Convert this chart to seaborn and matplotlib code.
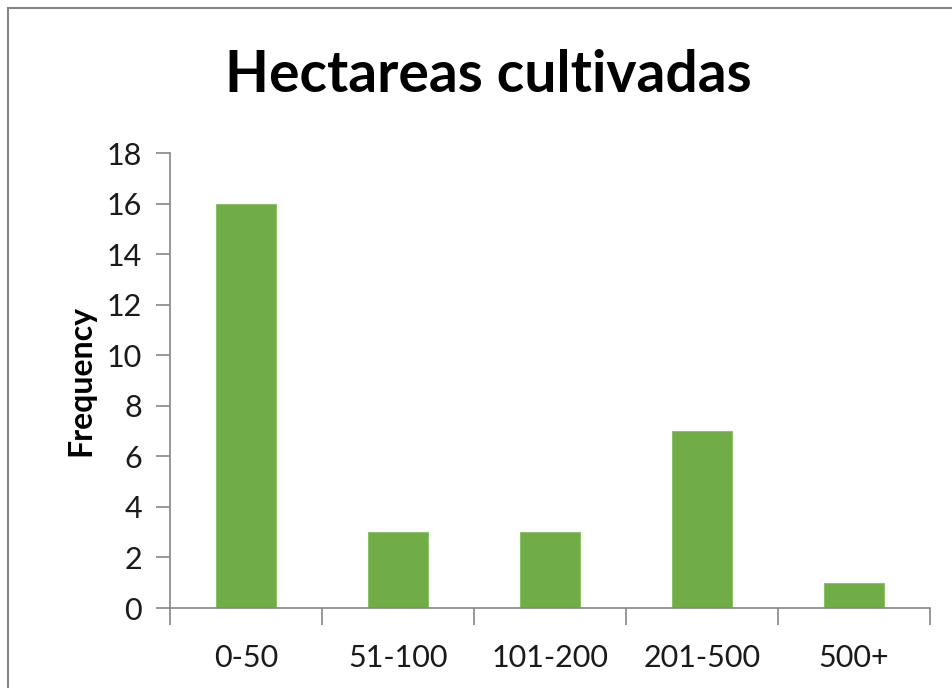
"""Hectareas cultivadas - histograma de frecuencias"""
import matplotlib
matplotlib.use("Agg")
import matplotlib.pyplot as plt
from matplotlib.patches import Rectangle
import numpy as np
import seaborn as sns

rangos = ["0-50", "51-100", "101-200", "201-500", "500+"]
frecuencias = [16, 3, 3, 7, 1]

sns.set_theme(style="white")
plt.rcParams["font.family"] = ["Lato", "DejaVu Sans"]

fig = plt.figure(figsize=(9.53, 6.88), dpi=100)
ax = fig.add_axes([170 / 953, 1 - 608 / 688, (930 - 170) / 953, (608 - 153) / 688])

sns.barplot(x=rangos, y=frecuencias, color="#70AD47", saturation=1,
            width=0.4, edgecolor="#8CC168", linewidth=0.8, ax=ax)

gris = "#868686"
ax.set_xlim(-0.5, len(rangos) - 0.5)
ax.set_ylim(0, 18)
ax.set_yticks(np.arange(0, 19, 2))
ax.set_xticks(np.arange(-0.5, len(rangos)), minor=True)
ax.tick_params(which="both", bottom=True, left=True)
ax.tick_params(axis="x", which="major", length=0, pad=26, labelsize=22, labelcolor="#1a1a1a")
ax.tick_params(axis="x", which="minor", length=12, width=1.2, color=gris, direction="out")
ax.tick_params(axis="y", length=10, width=1.2, color=gris, direction="out",
               pad=10, labelsize=22, labelcolor="#1a1a1a")
for lado in ["top", "right"]:
    ax.spines[lado].set_visible(False)
for lado in ["left", "bottom"]:
    ax.spines[lado].set_color(gris)
    ax.spines[lado].set_linewidth(1.2)

ax.set_ylabel("Frequency", fontsize=23, fontweight="bold", labelpad=8, color="black")
fig.text(488 / 953, 1 - 75 / 688, "Hectareas cultivadas", ha="center", va="center",
         fontsize=41, fontweight="bold", color="black")

# marco del grafico (recortado a la derecha y abajo)
fig.patches.append(Rectangle((8 / 953, -0.1), 1.2, 1.1 - 8 / 688, transform=fig.transFigure,
                             fill=False, edgecolor=gris, linewidth=1.5))

fig.savefig("out.png", dpi=100)
